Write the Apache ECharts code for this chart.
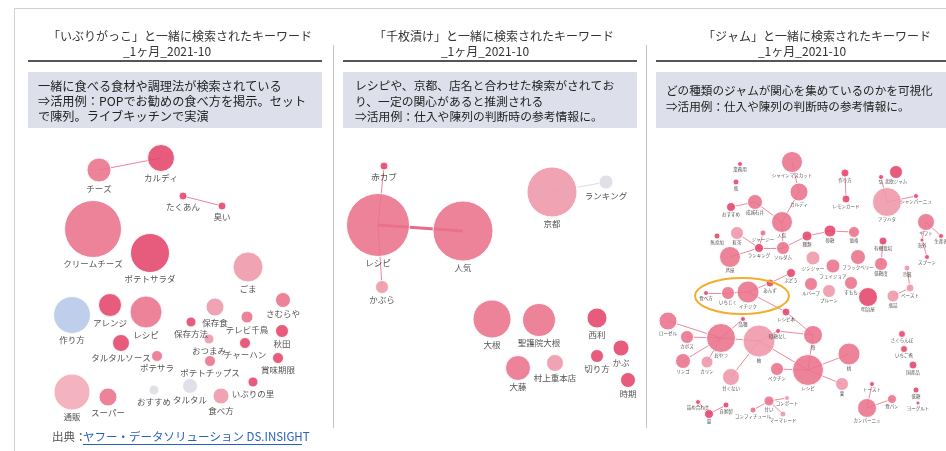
<!DOCTYPE html>
<html><head><meta charset="utf-8">
<script src="https://cdn.jsdelivr.net/npm/echarts@6/dist/echarts.min.js"></script>
<style>html,body{margin:0;padding:0;background:#fff}#c{width:946px;height:451px}</style>
</head><body><div id="c"></div>
<script>
const FONT = '"Noto Sans CJK JP", "Noto Sans", sans-serif';

// ---------- texts ----------
const titleLine1 = ['「いぶりがっこ」と一緒に検索されたキーワード', '「千枚漬け」と一緒に検索されたキーワード', '「ジャム」と一緒に検索されたキーワード'];
const titleLine2 = ['_1ヶ月_2021-10', '_1ヶ月_2021-10', '_1ヶ月_2021-10'];
const note1 = ['一緒に食べる食材や調理法が検索されている', '⇒活用例：POPでお勧めの食べ方を掲示。セット', 'で陳列。ライブキッチンで実演'];
const note2 = ['レシピや、京都、店名と合わせた検索がされてお', 'り、一定の関心があると推測される', '⇒活用例：仕入や陳列の判断時の参考情報に。'];
const note3 = ['どの種類のジャムが関心を集めているのかを可視化', '⇒活用例：仕入や陳列の判断時の参考情報に。'];
const sourceLabel = '出典：';
const sourceName = 'ヤフー・データソリューション DS.INSIGHT';

// ---------- panel 1: いぶりがっこ ----------
const p1Names = ['チーズ','カルディ','たくあん','臭い','クリームチーズ','ポテトサラダ','ごま','作り方','アレンジ','レシピ','タルタルソース','ポテサラ','保存方法','保存食','おつまみ','ポテトチップス','テレビ千鳥','チャーハン','さむらや','秋田','賞味期限','いぶりの里','通販','スーパー','おすすめ','タルタル','食べ方'];
const p1X = [59,121,143,182,53,110,208,32,70,106,81,117,151,175,169,170,207,205,243,242,238,213,32,68,114,150,181];
const p1Y = [30,18,56,66,89,113,127,175,165,172,203,216,182,167,199,221,177,203,160,191,218,242,252,257,250,246,256];
const p1Size = [24,27,8,8,57,39,30,37,23,32,17,11,10,18,10,11,12,11,15,13,11,10,36,18,10,15,16];
const p1Tone = [1,0,0,0,1,0,2,3,0,1,0,1,0,2,2,1,1,0,1,0,0,0,5,1,4,4,2];
const p1Links = [['チーズ','カルディ'],['たくあん','臭い']];

// ---------- panel 2: 千枚漬け ----------
const p2Names = ['赤カブ','レシピ','人気','かぶら','京都','ランキング','大根','聖護院大根','西利','大藤','村上重本店','切り方','かぶ','時期'];
const p2X = [49,43,128,47,217,271,157,204,262,183,220,262,286,293];
const p2Y = [26,85,91,147,52,42,179,180,178,228,223,216,208,240];
const p2Size = [8,63,60,13,50,14,38,33,20,25,17,13,16,15];
const p2Tone = [0,1,1,2,2,4,1,1,0,1,2,0,0,0];
const p2Links = [['レシピ','人気'],['赤カブ','レシピ'],['レシピ','かぶら'],['京都','ランキング']];
const p2LinkWeight = [3,1,1,1];

// ---------- panel 3: ジャム ----------
const p3Names = ['シャインマスカット','カルディ','人気','業務用','瓶','成城石井','おすすめ','無添加','紅茶','ジャージー','ランキング','ソルダム','芦屋','種類','砂糖','価格','作り方','レモンカード','SL','北欧ジャム','アヲハタ','シャンパーニュ','ギフト','生産者','海外','スプーン','有機栽培','低糖度','ジンジャー','フェイジョア','ブラックベリー','冷蔵','ぶどう','ルバーブ','プルーン','すもも','明治屋','瓶詰','ペースト','食べ方','いちじく','イチジク','あんず','レシピ本','品種','ローゼル','おやつ','カボス','リンゴ','カリン','柚','甘くない','砂糖なし','苺','レシピ','ペクチン','桃','栗','さくらんぼ','いちご煮','国産品','低糖','ヨーグルト','カンパーニュ','食パン','トースト','詰め合わせ','自家製','量','甘い','コンポート','コンフィチュール','マーマレード'];
const p3X = [142,149,132,90,86,105,81,67,87,113,109,133,80,157,180,204,195,196,231,246,237,266,276,291,272,277,233,231,163,183,208,257,141,161,179,201,218,243,260,56,78,98,120,136,93,18,71,37,33,57,109,81,128,163,158,127,199,192,252,254,263,266,268,217,242,222,48,76,59,119,137,103,133];
const p3Y = [22,52,82,24,42,62,67,96,93,93,108,108,117,96,91,92,33,59,37,32,62,56,82,96,100,117,101,124,118,126,117,128,133,144,151,143,157,156,148,153,153,152,143,172,179,181,198,197,221,222,201,237,191,195,230,229,214,244,194,209,225,250,263,268,259,244,262,265,274,261,258,270,274];
const p3Size = [21,18,21,5,6,15,9,6,13,6,9,13,21,10,12,11,8,8,5,13,29,5,17,5,4,5,8,13,14,14,15,6,9,13,13,13,19,12,8,5,13,22,8,8,5,18,29,13,15,12,32,17,5,19,31,13,22,13,7,7,8,6,4,19,9,5,5,6,9,10,5,6,6];
const p3Tone = [1,1,1,0,0,1,0,0,2,1,0,1,1,0,0,1,0,0,0,0,2,0,1,0,0,0,0,1,2,1,1,2,0,1,2,1,0,2,2,0,1,1,0,0,0,1,1,1,1,2,2,2,0,1,1,1,1,2,0,0,0,0,0,1,1,0,0,0,0,1,2,1,2];
const p3Links = [['シャインマスカット','カルディ'],['カルディ','人気'],['人気','成城石井'],['成城石井','おすすめ'],['人気','ソルダム'],['ソルダム','ランキング'],['ランキング','紅茶'],['ランキング','ジャージー'],['ランキング','芦屋'],['ソルダム','種類'],['種類','砂糖'],['砂糖','価格'],['作り方','レモンカード'],['アヲハタ','シャンパーニュ'],['アヲハタ','SL'],['ギフト','生産者'],['ギフト','海外'],['海外','スプーン'],['有機栽培','低糖度'],['冷蔵','ペースト'],['ペースト','瓶詰'],['食べ方','いちじく'],['いちじく','イチジク'],['イチジク','あんず'],['あんず','ぶどう'],['イチジク','レシピ本'],['レシピ本','苺'],['ローゼル','おやつ'],['カボス','おやつ'],['リンゴ','おやつ'],['カリン','おやつ'],['おやつ','柚'],['品種','おやつ'],['柚','甘くない'],['柚','砂糖なし'],['砂糖なし','苺'],['柚','レシピ'],['苺','レシピ'],['レシピ','ペクチン'],['レシピ','桃'],['レシピ','栗'],['カンパーニュ','食パン'],['カンパーニュ','トースト'],['量','詰め合わせ'],['量','自家製'],['甘い','コンポート'],['甘い','コンフィチュール'],['甘い','マーマレード']];

// ---------- styling ----------
const toneColors = ['#e4446a', '#e9728b', '#ee97a9', '#b6c8e8', '#dcdde5', '#f2a9b7'];

function nodes(names, xs, ys, sizes, tones, fs) {
  return names.map((n, i) => ({
    name: n, value: [xs[i], ys[i]], symbolSize: sizes[i],
    itemStyle: { color: toneColors[tones[i]] },
    label: { fontSize: fs }
  }));
}
function links(pairs, weights, color) {
  return pairs.map((p, i) => ({
    source: p[0], target: p[1],
    lineStyle: { width: weights ? weights[i] : 1, color: color || '#e8708a' }
  }));
}
function graphSeries(idx, data, lnks, fs, dist) {
  return {
    type: 'graph', coordinateSystem: 'cartesian2d', xAxisIndex: idx, yAxisIndex: idx,
    layout: 'none', roam: false, silent: true,
    data: data, links: lnks,
    itemStyle: { opacity: 0.88, borderColor: '#fff', borderWidth: 1 },
    lineStyle: { opacity: 0.85, curveness: 0 },
    label: { show: true, position: 'bottom', distance: dist, color: '#3a3a3a', fontFamily: FONT, fontSize: fs },
    emphasis: { disabled: true }
  };
}

const p2LinkData = links(p2Links, p2LinkWeight);
p2LinkData[0].lineStyle.color = '#e25274';
p2LinkData[3].lineStyle.color = '#d6d6de';

const panels = [
  { left: 40, top: 140, w: 290, h: 300 },
  { left: 335, top: 140, w: 310, h: 300 },
  { left: 650, top: 140, w: 296, h: 300 }
];

// ---------- decorations ----------
const g = [];
g.push({ type: 'line', shape: { x1: 14, y1: 8.5, x2: 946, y2: 8.5 }, style: { stroke: '#d0d0d0', lineWidth: 1 } });
g.push({ type: 'line', shape: { x1: 14.5, y1: 8, x2: 14.5, y2: 451 }, style: { stroke: '#d0d0d0', lineWidth: 1 } });
g.push({ type: 'line', shape: { x1: 333.5, y1: 45, x2: 333.5, y2: 428 }, style: { stroke: '#c4c4c4', lineWidth: 1 } });
g.push({ type: 'line', shape: { x1: 646.5, y1: 45, x2: 646.5, y2: 428 }, style: { stroke: '#c4c4c4', lineWidth: 1 } });
const boxL = [28, 343, 656], boxW = [294, 294, 290];
const t1X = [180, 494, 817], t2X = [167, 485, 802];
for (let i = 0; i < 3; i++) {
  g.push({ type: 'rect', shape: { x: boxL[i], y: 60, width: boxW[i], height: 2 }, style: { fill: '#555' } });
  g.push({ type: 'rect', shape: { x: boxL[i], y: 72, width: boxW[i], height: 56 }, style: { fill: '#dde0ea' } });
  g.push({ type: 'text', style: { x: t1X[i], y: 36, text: titleLine1[i], font: '12px ' + FONT, fill: '#333', textAlign: 'center', textVerticalAlign: 'middle' } });
  g.push({ type: 'text', style: { x: t2X[i], y: 51, text: titleLine2[i], font: '12px ' + FONT, fill: '#333', textAlign: 'center', textVerticalAlign: 'middle' } });
}
const notes = [note1, note2, note3];
const noteX = [38, 355, 666];
const noteY0 = [86, 86, 91];
const noteSize = [12.2, 11.8, 11.6];
notes.forEach((lines, i) => lines.forEach((ln, j) => {
  g.push({ type: 'text', style: { x: noteX[i], y: noteY0[i] + j * 15.3, text: ln, font: noteSize[i] + 'px ' + FONT, fill: '#222', textAlign: 'left', textVerticalAlign: 'middle' } });
}));
g.push({ type: 'ellipse', shape: { cx: 742, cy: 296, rx: 47, ry: 18 }, style: { fill: 'none', stroke: '#f0b02e', lineWidth: 2 }, z: 100 });
g.push({ type: 'text', style: { x: 52, y: 437, text: sourceLabel, font: '11.5px ' + FONT, fill: '#555', textAlign: 'left', textVerticalAlign: 'middle' } });
g.push({ type: 'text', style: { x: 83, y: 437, text: sourceName, font: '11.5px ' + FONT, fill: '#2660c0', textAlign: 'left', textVerticalAlign: 'middle' } });
g.push({ type: 'line', shape: { x1: 83, y1: 444.5, x2: 302, y2: 444.5 }, style: { stroke: '#2660c0', lineWidth: 1 } });

const chart = echarts.init(document.getElementById('c'), null, { renderer: 'canvas' });
chart.setOption({
  animation: false,
  backgroundColor: '#fff',
  grid: panels.map(p => ({ left: p.left, top: p.top, width: p.w, height: p.h })),
  xAxis: panels.map((p, i) => ({ gridIndex: i, type: 'value', min: 0, max: p.w, show: false })),
  yAxis: panels.map((p, i) => ({ gridIndex: i, type: 'value', min: 0, max: p.h, inverse: true, show: false })),
  series: [
    graphSeries(0, nodes(p1Names, p1X, p1Y, p1Size, p1Tone, 8.5), links(p1Links), 8.5, 2),
    graphSeries(1, nodes(p2Names, p2X, p2Y, p2Size, p2Tone, 8.5), p2LinkData, 8.5, 2),
    graphSeries(2, nodes(p3Names, p3X, p3Y, p3Size, p3Tone, 4.5), links(p3Links, null, '#e9748d'), 4.5, 0.5)
  ],
  graphic: g
});
</script></body></html>
